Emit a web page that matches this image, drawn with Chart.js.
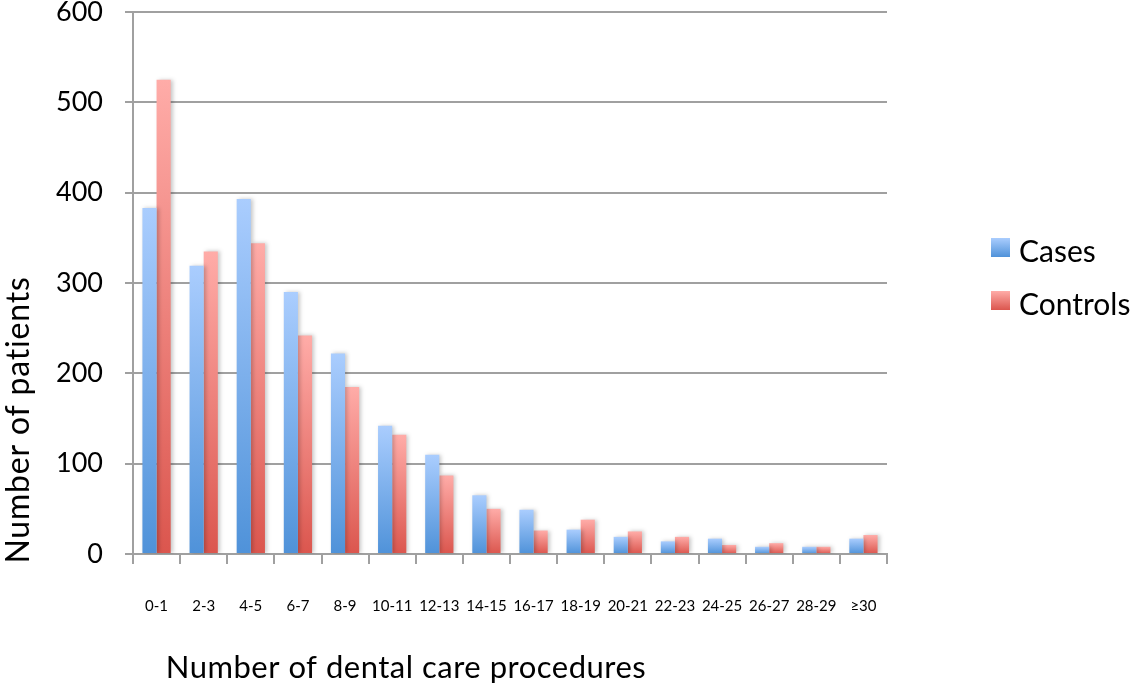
<!DOCTYPE html>
<html>
<head>
<meta charset="utf-8">
<script src="https://cdn.jsdelivr.net/npm/chart.js@4/dist/chart.umd.min.js"></script>
<style>
  body { margin: 0; background: #fff; }
  #wrap { width: 1134px; height: 688px; position: relative; }
</style>
</head>
<body>
<div id="wrap"><canvas id="chart"></canvas></div>
<script>
// values
const categories = ['0-1', '2-3', '4-5', '6-7', '8-9', '10-11', '12-13', '14-15',
  '16-17', '18-19', '20-21', '22-23', '24-25', '26-27', '28-29', '≥30'];
const cases = [383, 319, 393, 290, 222, 142, 110, 65, 49, 27, 19, 14, 17, 8, 8, 17];
const controls = [525, 335, 344, 242, 185, 132, 87, 50, 26, 38, 25, 19, 10, 12, 8, 21];
const seriesNames = ['Cases', 'Controls'];
const xTitle = 'Number of dental care procedures';
const yTitle = 'Number of patients';

const FONT = 'Lato, "Open Sans", sans-serif';
const GRID = '#a0a0a0';
const blueStops = ['#aacdfe', '#4f92d9'];
const redStops = ['#ffaca8', '#db564e'];

// each bar gets its own vertical gradient, light at the top, dark at the base
function barGradient(stops) {
  return (ctx) => {
    const chart = ctx.chart;
    const y = chart.scales.y;
    if (ctx.type !== 'data' || !y || y.top === undefined) return stops[1];
    const top = y.getPixelForValue(ctx.raw);
    const base = y.getPixelForValue(0);
    if (!isFinite(top) || top === base) return stops[1];
    const g = chart.ctx.createLinearGradient(0, top, 0, base);
    g.addColorStop(0, stops[0]);
    g.addColorStop(1, stops[1]);
    return g;
  };
}

// soft shadow to the right of the bars
const barShadow = {
  id: 'barShadow',
  beforeDatasetsDraw(chart) {
    const ctx = chart.ctx;
    ctx.save();
    ctx.shadowColor = 'rgba(0,0,0,0.22)';
    ctx.shadowBlur = 4;
    ctx.shadowOffsetX = 2;
  },
  afterDatasetsDraw(chart) {
    chart.ctx.restore();
  }
};

// axis titles and legend placed the way the original sheet had them
const extras = {
  id: 'extras',
  afterDraw(chart) {
    const ctx = chart.ctx;
    ctx.save();
    ctx.fillStyle = '#000';
    ctx.textAlign = 'center';
    ctx.textBaseline = 'alphabetic';
    ctx.font = '31px ' + FONT;
    ctx.letterSpacing = '0.5px';
    ctx.fillText(xTitle, 406, 678);

    ctx.font = '32px ' + FONT;
    ctx.letterSpacing = '0.8px';
    ctx.translate(29, 420);
    ctx.rotate(-Math.PI / 2);
    ctx.fillText(yTitle, 0, 0);
    ctx.restore();

    // legend
    ctx.save();
    const stops = [blueStops, redStops];
    ctx.font = '30px ' + FONT;
    ctx.textAlign = 'left';
    ctx.textBaseline = 'alphabetic';
    chart.data.datasets.forEach((ds, i) => {
      const baseline = 262 + i * 53;
      const bx = 991, by = baseline - 24, size = 19;
      const g = ctx.createLinearGradient(0, by, 0, by + size);
      g.addColorStop(0, stops[i][0]);
      g.addColorStop(1, stops[i][1]);
      ctx.fillStyle = g;
      ctx.fillRect(bx, by, size, size);
      ctx.fillStyle = '#000';
      ctx.fillText(ds.label, 1019, baseline);
    });
    ctx.restore();
  }
};

new Chart(document.getElementById('chart'), {
  type: 'bar',
  data: {
    labels: categories,
    datasets: [
      { label: seriesNames[0], data: cases, backgroundColor: barGradient(blueStops) },
      { label: seriesNames[1], data: controls, backgroundColor: barGradient(redStops) }
    ]
  },
  options: {
    responsive: true,
    maintainAspectRatio: false,
    animation: false,
    layout: { padding: { left: 40, right: 247, top: 12, bottom: 0 } },
    datasets: {
      bar: { categoryPercentage: 0.6, barPercentage: 1.0, borderWidth: 0 }
    },
    plugins: {
      legend: { display: false },
      tooltip: { enabled: false }
    },
    scales: {
      x: {
        afterFit: (scale) => { scale.height = 134; },
        grid: {
          display: true,
          offset: true,
          drawOnChartArea: false,
          drawTicks: true,
          tickLength: 10,
          color: GRID,
          lineWidth: 2
        },
        border: { display: true, color: GRID, width: 2 },
        ticks: {
          color: '#000',
          padding: 33,
          maxRotation: 0,
          autoSkip: false,
          font: { family: FONT, size: 15 }
        }
      },
      y: {
        min: 0,
        max: 600,
        afterFit: (scale) => {
          scale.width = 93;
          // keep the top gridline where the sheet had it
          scale.paddingTop = 0;
          scale.paddingBottom = 0;
        },
        grid: {
          color: GRID,
          lineWidth: 2,
          tickLength: 8
        },
        border: { display: true, color: GRID, width: 2 },
        ticks: {
          stepSize: 100,
          color: '#000',
          padding: 22,
          font: { family: FONT, size: 27, lineHeight: 1 }
        }
      }
    }
  },
  plugins: [barShadow, extras]
});
</script>
</body>
</html>
